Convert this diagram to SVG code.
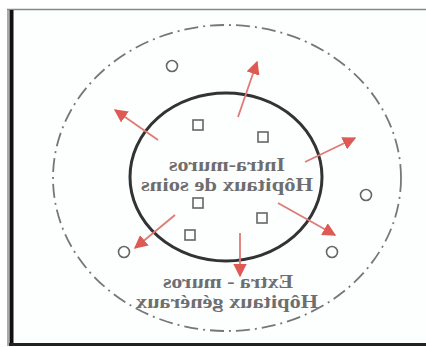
<svg xmlns="http://www.w3.org/2000/svg" width="426" height="347" viewBox="0 0 426 347">
<style>
.lbl{font-family:"Liberation Serif","Times New Roman",serif;font-weight:bold;font-size:19px;fill:#6e6e6e;text-anchor:middle}
.sq{fill:none;stroke:#666;stroke-width:1.6}
.ci{fill:none;stroke:#666;stroke-width:1.6}
.arr{stroke:#e07a75;stroke-width:1.8;fill:none;marker-end:url(#ah)}
</style>
<defs>
<marker id="ah" viewBox="0 0 10 10" refX="9" refY="5" markerWidth="7.5" markerHeight="7.5" orient="auto" markerUnits="strokeWidth">
<path d="M0,0 L10,5 L0,10 z" fill="#de5a55"/>
</marker>
</defs>
<rect x="0" y="0" width="426" height="347" fill="#ffffff"/>
<g id="frame">
<rect x="9" y="10" width="417" height="334" fill="#fdfefe"/>
<line x1="7" y1="9.5" x2="426" y2="9.5" stroke="#888" stroke-width="1.5"/>
<line x1="8" y1="10" x2="8" y2="346" stroke="#aaa" stroke-width="2"/>
<line x1="11.5" y1="10" x2="11.5" y2="346" stroke="#111" stroke-width="4"/>
<line x1="9" y1="344.5" x2="426" y2="344.5" stroke="#222" stroke-width="3"/>
</g>
<g id="outer">
<ellipse cx="227" cy="178" rx="174" ry="153" fill="none" stroke="#777" stroke-width="1.8" stroke-dasharray="14,5,2,5"/>
</g>
<g id="inner">
<ellipse cx="226" cy="177" rx="96" ry="84" fill="none" stroke="#333" stroke-width="3"/>
</g>
<g id="squares">
<rect class="sq" x="193" y="120" width="10" height="10"/>
<rect class="sq" x="258" y="132" width="10" height="10"/>
<rect class="sq" x="193" y="198" width="10" height="10"/>
<rect class="sq" x="257" y="213" width="10" height="10"/>
<rect class="sq" x="185" y="230" width="10" height="10"/>
</g>
<g id="circles">
<circle class="ci" cx="172" cy="66" r="5.5"/>
<circle class="ci" cx="366" cy="195" r="5.5"/>
<circle class="ci" cx="332" cy="252" r="5.5"/>
<circle class="ci" cx="124" cy="252" r="5.5"/>
</g>
<g id="connectors">
<line class="arr" x1="238" y1="117" x2="257" y2="62"/>
<line class="arr" x1="158" y1="140" x2="115" y2="110"/>
<line class="arr" x1="305" y1="162" x2="355" y2="138"/>
<line class="arr" x1="278" y1="203" x2="335" y2="235"/>
<line class="arr" x1="240" y1="233" x2="240" y2="276"/>
<line class="arr" x1="175" y1="215" x2="135" y2="248"/>
</g>
<g id="label-intra" transform="translate(454,0) scale(-1,1)">
<text class="lbl" x="227" y="171" textLength="116" lengthAdjust="spacingAndGlyphs">Intra-muros</text>
<text class="lbl" x="227" y="191" textLength="172" lengthAdjust="spacingAndGlyphs">Hôpitaux de soins</text>
</g>
<g id="label-extra" transform="translate(456,0) scale(-1,1)">
<text class="lbl" x="228" y="288" textLength="130" lengthAdjust="spacingAndGlyphs">Extra - muros</text>
<text class="lbl" x="229" y="308" textLength="182" lengthAdjust="spacingAndGlyphs">Hôpitaux généraux</text>
</g>
</svg>
